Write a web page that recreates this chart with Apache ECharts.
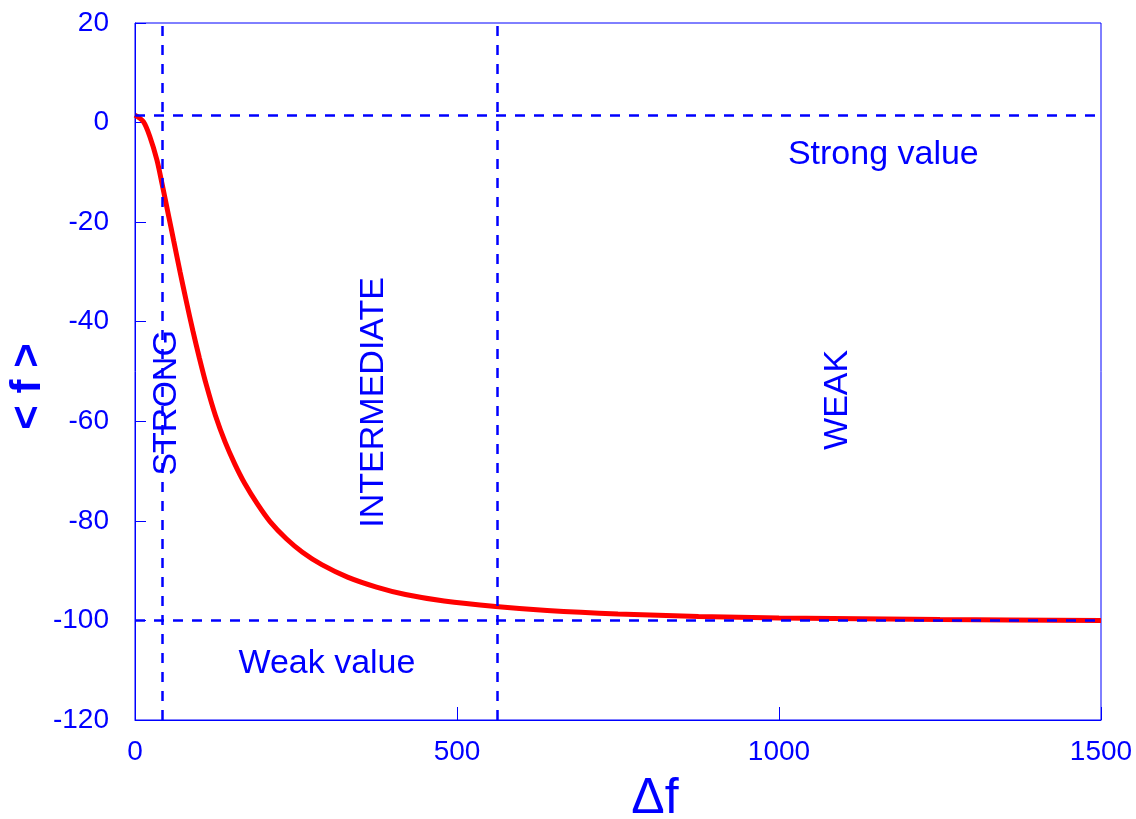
<!DOCTYPE html>
<html>
<head>
<meta charset="utf-8">
<script src="https://cdn.jsdelivr.net/npm/echarts@6/dist/echarts.min.js"></script>
<style>
html,body{margin:0;padding:0;background:#fff;}
#chart{width:1136px;height:819px;}
</style>
</head>
<body>
<div id="chart"></div>
<script>
// Data
var deltaF = [0, 13, 23, 34, 42, 52, 60, 70, 80, 90, 100, 111, 125, 140, 155, 170, 190, 210, 235, 260, 290, 330, 375, 420, 480, 560, 640, 750, 875, 1000, 1250, 1500];
var meanF  = [1.5, 0.2, -2.8, -7.5, -12.3, -18.6, -23.7, -30.0, -36.1, -41.9, -47.3, -52.8, -58.9, -64.2, -68.6, -72.4, -76.6, -80.2, -83.6, -86.3, -88.8, -91.3, -93.3, -94.8, -96.1, -97.2, -98.0, -98.7, -99.2, -99.5, -99.8, -100.0];
var verticalLimits = [42, 562];        // STRONG / INTERMEDIATE / WEAK boundaries
var horizontalLimits = [1.5, -100];    // strong value, weak value
var xTicks = [0, 500, 1000, 1500];
var yTicks = [-120, -100, -80, -60, -40, -20, 0, 20];

var BLUE = '#0000ff';
var FONT = '"Liberation Sans", Arial, sans-serif';

var chart = echarts.init(document.getElementById('chart'), null, {renderer: 'canvas'});

var markData = [];
verticalLimits.forEach(function (v) { markData.push({xAxis: v}); });
horizontalLimits.forEach(function (v) { markData.push({yAxis: v}); });

var option = {
  animation: false,
  backgroundColor: '#ffffff',
  grid: {
    left: 135, right: 35, top: 23, bottom: 99,
    outerBoundsMode: 'none',
    containLabel: false,
    show: true, borderColor: BLUE, borderWidth: 1, backgroundColor: 'transparent'
  },
  xAxis: {
    type: 'value',
    min: xTicks[0], max: xTicks[xTicks.length - 1], interval: 500,
    name: 'Δf',
    nameLocation: 'middle',
    nameGap: 54,
    nameTextStyle: {color: BLUE, fontSize: 50, fontFamily: FONT, padding: [0, 0, 0, 74]},
    axisLine: {show: true, onZero: false, lineStyle: {color: BLUE, width: 1}},
    axisTick: {show: true, inside: true, length: 13, lineStyle: {color: BLUE, width: 1}},
    axisLabel: {color: BLUE, fontSize: 28, fontFamily: FONT, margin: 18,
      formatter: function (v) { return String(v); }},
    splitLine: {show: false}
  },
  yAxis: {
    type: 'value',
    min: yTicks[0], max: yTicks[yTicks.length - 1], interval: 20,
    axisLine: {show: true, onZero: false, lineStyle: {color: BLUE, width: 1}},
    axisTick: {show: true, inside: true, length: 11, lineStyle: {color: BLUE, width: 1}},
    axisLabel: {color: BLUE, fontSize: 28, fontFamily: FONT, margin: 26,
      formatter: function (v) { return String(v); }},
    splitLine: {show: false}
  },
  series: [{
    type: 'line',
    data: deltaF.map(function (x, i) { return [x, meanF[i]]; }),
    smooth: 0.3,
    showSymbol: false,
    z: 3,
    lineStyle: {color: '#ff0000', width: 5},
    markLine: {
      silent: true,
      symbol: ['none', 'none'],
      label: {show: false},
      lineStyle: {color: BLUE, width: 2.5, type: [10, 9]},
      data: markData
    }
  }]
};
chart.setOption(option);

// Annotation texts placed in data coordinates
var notes = [
  {text: 'Strong value', x: 1162, y: -6.4, rot: 0},
  {text: 'Weak value', x: 298, y: -108.6, rot: 0},
  {text: 'STRONG', x: 49, y: -56.3, rot: Math.PI / 2},
  {text: 'INTERMEDIATE', x: 371, y: -56.2, rot: Math.PI / 2},
  {text: 'WEAK', x: 1091, y: -55.7, rot: Math.PI / 2}
];
var graphics = notes.map(function (n) {
  var p = chart.convertToPixel({gridIndex: 0}, [n.x, n.y]);
  return {
    type: 'text',
    x: p[0], y: p[1],
    rotation: n.rot,
    z: 10,
    style: {
      text: n.text,
      fill: BLUE,
      font: '34px ' + FONT,
      textAlign: 'center',
      textVerticalAlign: 'middle'
    }
  };
});
// y-axis title, beside the axis, slightly below the middle of the plot
var yMid = chart.convertToPixel({gridIndex: 0}, [0, -53]);
graphics.push({
  type: 'text',
  x: 28, y: yMid[1],
  rotation: Math.PI / 2,
  z: 10,
  style: {
    text: '< f >',
    fill: BLUE,
    font: 'bold 42px ' + FONT,
    textAlign: 'center',
    textVerticalAlign: 'middle'
  }
});
chart.setOption({graphic: graphics});
</script>
</body>
</html>
